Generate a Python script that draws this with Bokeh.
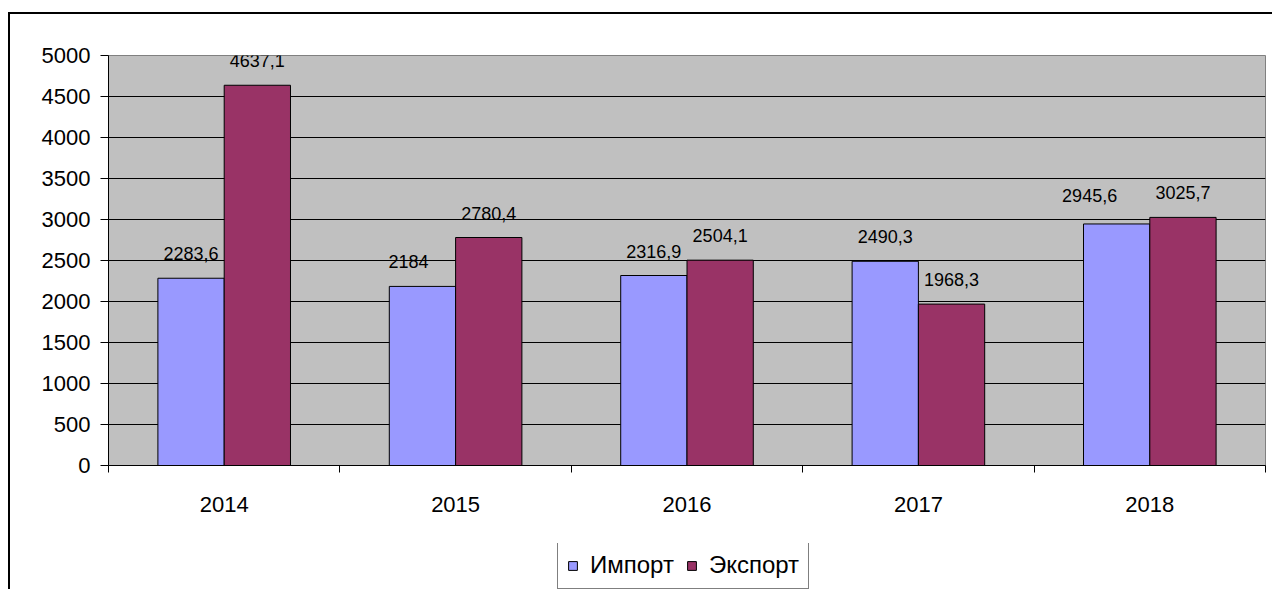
from bokeh.plotting import figure
from bokeh.models import (ColumnDataSource, FixedTicker, LabelSet, Legend, LegendItem,
                          Range1d, Div)
from bokeh.layouts import column
from bokeh.core.properties import value
from bokeh.embed import file_html
from bokeh.resources import INLINE

# ---- data ----
years = ["2014", "2015", "2016", "2017", "2018"]
import_vals = [2283.6, 2184, 2316.9, 2490.3, 2945.6]
export_vals = [4637.1, 2780.4, 2504.1, 1968.3, 3025.7]
series_names = ["Импорт", "Экспорт"]

# ---- style ----
FONT = "Liberation Sans"
IMPORT_COLOR = "#9999FF"
EXPORT_COLOR = "#993366"
BAR_W = 0.2865
# Excel moved a couple of labels to avoid overlap (pixels)
imp_dx = [0, -14, 0, 0, -27]
imp_dy = [0, 0, 0, 0, 4]
exp_dx = [0, 0, 0, 0, 0]
exp_dy = [0, 0, 0, 0, 0]


def fmt(v):
    return f"{v:g}".replace(".", ",")


centers = [i + 0.5 for i in range(len(years))]
src_imp = ColumnDataSource(dict(
    x=[c - BAR_W / 2 for c in centers], top=import_vals,
    label=[fmt(v) for v in import_vals], dx=imp_dx, dy=[18 + d for d in imp_dy]))
src_exp = ColumnDataSource(dict(
    x=[c + BAR_W / 2 for c in centers], top=export_vals,
    label=[fmt(v) for v in export_vals], dx=exp_dx, dy=[18 + d for d in exp_dy]))

p = figure(width=1272, height=543, output_backend="svg", toolbar_location=None,
           x_range=Range1d(0, len(years)), y_range=Range1d(0, 5000),
           min_border_left=108, min_border_right=7, min_border_top=55,
           min_border_bottom=78)

p.background_fill_color = "#C0C0C0"
p.border_fill_color = "white"
p.outline_line_color = "#808080"
p.outline_line_width = 1

r_imp = p.vbar(x="x", top="top", width=BAR_W, source=src_imp,
               fill_color=IMPORT_COLOR, line_color="black", line_width=1)
r_exp = p.vbar(x="x", top="top", width=BAR_W, source=src_exp,
               fill_color=EXPORT_COLOR, line_color="black", line_width=1)

for src in (src_imp, src_exp):
    p.add_layout(LabelSet(x="x", y="top", text="label", source=src,
                          x_offset="dx", y_offset="dy",
                          text_align="center", text_baseline="alphabetic",
                          text_font=value(FONT), text_font_size="18px",
                          text_color="black"))

# y axis
p.yaxis.ticker = FixedTicker(ticks=list(range(0, 5001, 500)))
p.yaxis.major_label_text_font = FONT
p.yaxis.major_label_text_font_size = "22px"
p.yaxis.major_label_text_color = "black"
p.yaxis.major_tick_out = 8
p.yaxis.major_tick_in = 0
p.yaxis.minor_tick_out = 0
p.yaxis.minor_tick_in = 0
p.yaxis.axis_line_color = "black"
p.yaxis.major_tick_line_color = "black"
p.yaxis.major_label_standoff = 10

# x axis: labels at centers, ticks at category boundaries
p.xaxis.ticker = FixedTicker(ticks=centers, minor_ticks=list(range(len(years) + 1)))
p.xaxis.major_label_overrides = {c: y for c, y in zip(centers, years)}
p.xaxis.major_label_text_font = FONT
p.xaxis.major_label_text_font_size = "22px"
p.xaxis.major_label_text_color = "black"
p.xaxis.major_tick_out = 0
p.xaxis.major_tick_in = 0
p.xaxis.minor_tick_out = 7
p.xaxis.minor_tick_in = 0
p.xaxis.minor_tick_line_color = "black"
p.xaxis.axis_line_color = "black"
p.xaxis.major_label_standoff = 24

p.xgrid.grid_line_color = None
p.ygrid.grid_line_color = "black"
p.ygrid.grid_line_width = 1

# legend row below the chart (its frame is aligned with the chart's frame);
# the series renderers here lie outside its view and only feed the legend swatches
lf = figure(width=1272, height=46, output_backend="svg", toolbar_location=None,
            x_range=Range1d(0, len(years)), y_range=Range1d(100000, 200000),
            x_axis_location=None, y_axis_location=None, min_border=0)
lf.outline_line_color = None
lf.background_fill_color = "white"
lf.border_fill_color = "white"
lf.grid.grid_line_color = None
li = lf.vbar(x="x", top="top", width=BAR_W, source=src_imp,
             fill_color=IMPORT_COLOR, line_color="black")
le = lf.vbar(x="x", top="top", width=BAR_W, source=src_exp,
             fill_color=EXPORT_COLOR, line_color="black")
legend = Legend(items=[LegendItem(label=series_names[0], renderers=[li]),
                       LegendItem(label=series_names[1], renderers=[le])],
                orientation="horizontal", location=(449, 0),
                label_text_font=FONT, label_text_font_size="24px",
                label_text_color="black",
                glyph_width=11, glyph_height=11, label_standoff=12, spacing=12,
                padding=9, margin=0,
                border_line_color="black", border_line_width=1,
                background_fill_color="white", background_fill_alpha=1)
lf.add_layout(legend)

# outer chart border (top and left edges visible in the window)
frame_div = Div(text='<div style="position:fixed;left:8px;top:12px;width:3000px;'
                     'height:3000px;border-left:2px solid black;border-top:2px solid black;'
                     'pointer-events:none;z-index:10"></div>',
                width=0, height=0)

layout = column(p, lf, frame_div, spacing=0)
open("out.html", "w").write(file_html(layout, INLINE))
